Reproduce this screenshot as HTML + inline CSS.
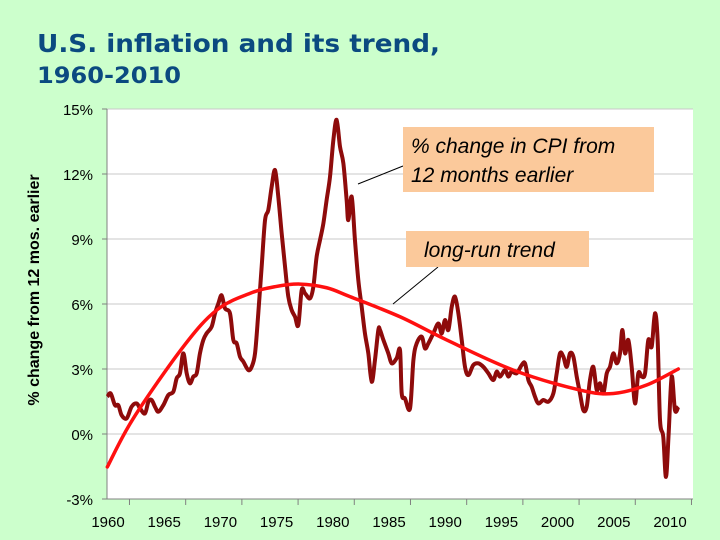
<!DOCTYPE html>
<html><head><meta charset="utf-8"><style>
html,body{margin:0;padding:0;background:#ccffcc;}
svg{display:block;}
</style></head><body>
<svg id="chart" width="720" height="540" xmlns="http://www.w3.org/2000/svg">
<rect x="0" y="0" width="720" height="540" fill="#ccffcc"/>
<text x="37" y="52" font-family="DejaVu Sans, sans-serif" font-weight="bold" font-size="25" fill="#0b4a80" textLength="403" lengthAdjust="spacingAndGlyphs">U.S. inflation and its trend,</text>
<text x="37" y="83" font-family="DejaVu Sans, sans-serif" font-weight="bold" font-size="22" fill="#0b4a80" textLength="144" lengthAdjust="spacingAndGlyphs">1960-2010</text>
<rect x="107" y="109" width="586" height="390" fill="#ffffff"/>
<g id="grid"></g>
<g id="axes"></g>
<text transform="translate(39,290) rotate(-90)" text-anchor="middle" font-family="Liberation Sans, sans-serif" font-weight="bold" font-size="16" fill="#000">% change from 12 mos. earlier</text>
<g id="series"></g>
<line x1="358" y1="184" x2="403" y2="166" stroke="#000" stroke-width="1"/>
<line x1="393" y1="304" x2="438" y2="267" stroke="#000" stroke-width="1"/>
<g>
<rect x="403" y="127" width="251" height="65" fill="#fbc99b"/>
<text x="411" y="153" font-family="Liberation Sans, sans-serif" font-style="italic" font-size="21" fill="#000">% change in CPI from</text>
<text x="411" y="182" font-family="Liberation Sans, sans-serif" font-style="italic" font-size="21" fill="#000">12 months earlier</text>
</g>
<g>
<rect x="406" y="231" width="183" height="36" fill="#fbc99b"/>
<text x="424" y="257" font-family="Liberation Sans, sans-serif" font-style="italic" font-size="21" fill="#000">long-run trend</text>
</g>
</svg>
<script>
const yTicks=[-3,0,3,6,9,12,15];
const xLabels=[1960,1965,1970,1975,1980,1985,1990,1995,2000,2005,2010];
const cpiYears=[1960.03,1960.33,1960.71,1961.01,1961.30,1961.75,1962.19,1962.64,1962.94,1963.38,1963.68,1963.97,1964.27,1964.57,1965.01,1965.46,1965.90,1966.20,1966.49,1966.79,1967.09,1967.38,1967.68,1967.98,1968.27,1968.57,1968.87,1969.31,1969.61,1969.91,1970.20,1970.50,1970.94,1971.24,1971.54,1971.83,1972.13,1972.57,1972.87,1973.17,1973.46,1973.76,1974.06,1974.35,1974.65,1974.95,1975.24,1975.54,1975.84,1976.13,1976.43,1976.73,1977.02,1977.32,1977.62,1978.06,1978.36,1978.65,1978.95,1979.25,1979.54,1979.84,1980.14,1980.43,1980.73,1981.03,1981.32,1981.47,1981.77,1982.06,1982.36,1982.66,1982.95,1983.25,1983.55,1983.84,1984.14,
1984.29,1984.59,1985.03,1985.33,1985.77,1986.07,1986.22,1986.51,1986.96,1987.26,1987.55,1988.00,1988.29,1988.59,1989.03,1989.48,1989.78,1990.07,1990.37,1990.67,1990.96,1991.26,1991.56,1991.85,1992.15,1992.59,1993.04,1993.48,1993.93,1994.37,1994.67,1994.97,1995.41,1995.71,1996.00,1996.45,1996.89,1997.19,1997.49,1997.78,1998.08,1998.38,1998.82,1999.27,1999.71,2000.01,2000.30,2000.60,2000.90,2001.19,2001.49,2001.79,2002.08,2002.38,2002.68,2002.97,2003.27,2003.57,2003.86,2004.16,2004.46,2004.75,2005.05,2005.35,2005.64,2005.85,2006.09,2006.38,2006.68,2006.98,2007.27,2007.57,2007.87,2008.16,2008.46,2008.75,2008.99,2009.20,2009.49,2009.73,2009.97,2010.24,2010.53,2010.83];
const cpiValues=[1.72,1.87,1.33,1.33,0.87,0.72,1.26,1.41,1.18,0.95,1.49,1.57,1.26,1.03,1.33,1.8,1.95,2.57,2.8,3.72,2.8,2.34,2.65,2.8,3.72,4.34,4.65,4.95,5.57,6.03,6.4,5.8,5.57,4.34,4.18,3.57,3.34,2.95,3.1,3.72,5.57,7.72,9.87,10.34,11.41,12.18,10.95,9.26,7.72,6.34,5.72,5.41,5.03,6.64,6.49,6.26,6.8,8.18,8.95,9.72,10.8,11.87,13.57,14.5,13.26,12.49,10.8,9.87,10.95,8.95,7.1,5.87,4.64,3.72,2.41,3.41,4.8,
4.8,4.34,3.72,3.26,3.5,3.87,1.87,1.64,1.18,3.41,4.18,4.49,3.95,4.18,4.64,5.1,4.64,5.26,4.8,5.87,6.34,5.57,4.34,3.1,2.72,3.18,3.26,3.1,2.8,2.49,2.88,2.65,2.95,2.65,2.88,2.8,3.18,3.26,2.49,2.18,1.72,1.41,1.57,1.49,1.87,2.8,3.72,3.57,3.1,3.72,3.57,2.65,1.87,1.1,1.26,2.49,3.1,2.03,2.34,1.87,2.8,3.1,3.72,3.26,3.72,4.8,3.72,4.34,3.1,1.41,2.8,2.65,2.8,4.34,4.03,5.57,4.34,0.64,-0.13,-1.98,0.03,2.65,1.1,1.26];
const trendYears=[1960.03,1962.34,1966.79,1969.76,1972.72,1974.95,1977.17,1979.54,1981.62,1986.07,1990.22,1996.15,2002.08,2005.05,2008.01,2010.83];
const trendValues=[-1.52,0.72,4.03,5.72,6.49,6.8,6.92,6.75,6.34,5.41,4.34,2.95,2.03,1.87,2.26,3.0];

const NS='http://www.w3.org/2000/svg';
const X0=107,Y0=434,PXY=11.24,PPV=65/3;
function xs(yr){return X0+(yr-1960)*PXY;}
function ys(v){return Y0-v*PPV;}
function mk(tag,attrs,parent){const e=document.createElementNS(NS,tag);for(const k in attrs)e.setAttribute(k,attrs[k]);parent.appendChild(e);return e;}
const grid=document.getElementById('grid'),axes=document.getElementById('axes'),series=document.getElementById('series');
yTicks.forEach(t=>{
  const l=mk('line',{x1:X0,x2:693,y1:ys(t),y2:ys(t),stroke:'#c8c8c8','stroke-width':1},grid);
  
  
  const tk=mk('line',{x1:X0-5,x2:X0,y1:ys(t),y2:ys(t),stroke:'#808080','stroke-width':1},axes);
  
  
  const tx=mk('text',{x:93,y:ys(t)+6,'text-anchor':'end','font-family':'Liberation Sans, sans-serif','font-size':'15',fill:'#000'},axes);
  tx.textContent=t+'%';
  
  
});
const ax=mk('line',{x1:X0,x2:X0,y1:109,y2:499,stroke:'#808080','stroke-width':1},axes);


const bx=mk('line',{x1:X0,x2:693,y1:499,y2:499,stroke:'#808080','stroke-width':1},axes);


xLabels.forEach(yr=>{
  const tk=mk('line',{x1:xs(yr+2),x2:xs(yr+2),y1:499,y2:505,stroke:'#808080','stroke-width':1},axes);
  
  
  const tx=mk('text',{x:xs(yr)+1,y:527,'text-anchor':'middle','font-family':'Liberation Sans, sans-serif','font-size':'15',fill:'#000'},axes);
  tx.textContent=yr;
  
  
});
function smooth(xsA,vsA){
  const p=xsA.map((x,i)=>[xs(x),ys(vsA[i])]);
  let d='M'+p[0][0]+','+p[0][1];
  for(let i=0;i<p.length-1;i++){
    const a=p[i-1]||p[i],b=p[i],c=p[i+1],e=p[i+2]||c;
    d+=' C'+(b[0]+(c[0]-a[0])/6)+','+(b[1]+(c[1]-a[1])/6)+' '+(c[0]-(e[0]-b[0])/6)+','+(c[1]-(e[1]-b[1])/6)+' '+c[0]+','+c[1];
  }
  return d;
}
const cpi=mk('path',{d:smooth(cpiYears,cpiValues),fill:'none',stroke:'#8e0b0b','stroke-width':4,'stroke-linejoin':'round'},series);


const tr=mk('path',{d:smooth(trendYears,trendValues),fill:'none',stroke:'#ff1010','stroke-width':3.5,'stroke-linecap':'round'},series);


</script>
</body></html>
